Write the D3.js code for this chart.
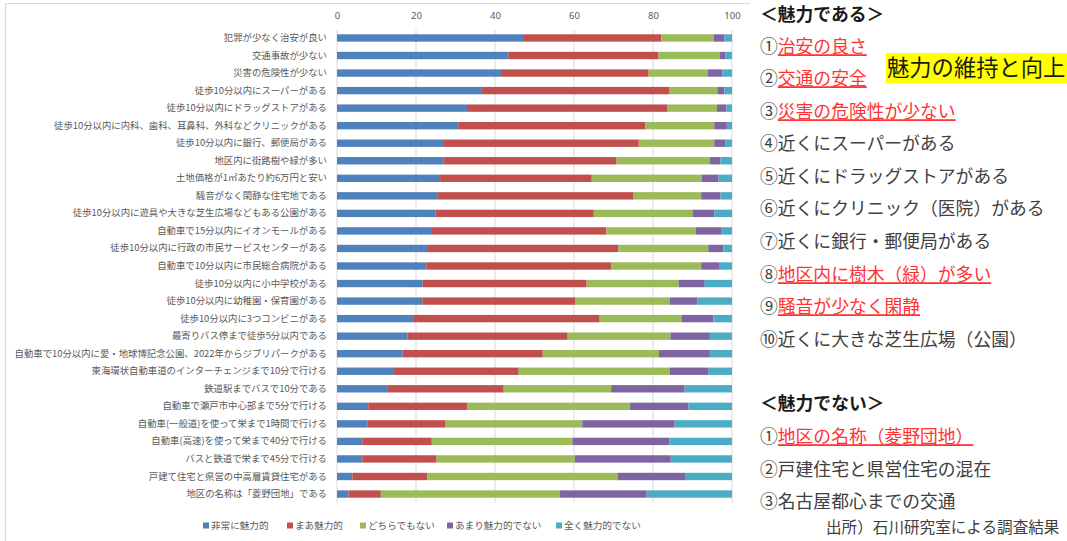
<!DOCTYPE html>
<html><head><meta charset="utf-8">
<script src="https://cdn.jsdelivr.net/npm/d3@7/dist/d3.min.js"></script>
<style>
html,body{margin:0;padding:0;background:#fff;}
svg{display:block;font-family:"Noto Sans CJK JP","Noto Sans",sans-serif;}
</style></head>
<body>
<svg id="c" width="1067" height="541"></svg>
<script>
const categories = [
  "犯罪が少なく治安が良い",
  "交通事故が少ない",
  "災害の危険性が少ない",
  "徒歩10分以内にスーパーがある",
  "徒歩10分以内にドラッグストアがある",
  "徒歩10分以内に内科、歯科、耳鼻科、外科などクリニックがある",
  "徒歩10分以内に銀行、郵便局がある",
  "地区内に街路樹や緑が多い",
  "土地価格が1㎡あたり約6万円と安い",
  "騒音がなく閑静な住宅地である",
  "徒歩10分以内に遊具や大きな芝生広場などもある公園がある",
  "自動車で15分以内にイオンモールがある",
  "徒歩10分以内に行政の市民サービスセンターがある",
  "自動車で10分以内に市民総合病院がある",
  "徒歩10分以内に小中学校がある",
  "徒歩10分以内に幼稚園・保育園がある",
  "徒歩10分以内に3つコンビニがある",
  "最寄りバス停まで徒歩5分以内である",
  "自動車で10分以内に愛・地球博記念公園、2022年からジブリパークがある",
  "東海環状自動車道のインターチェンジまで10分で行ける",
  "鉄道駅までバスで10分である",
  "自動車で瀬戸市中心部まで5分で行ける",
  "自動車(一般道)を使って栄まで1時間で行ける",
  "自動車(高速)を使って栄まで40分で行ける",
  "バスと鉄道で栄まで45分で行ける",
  "戸建て住宅と県営の中高層賃貸住宅がある",
  "地区の名称は「菱野団地」である"
];
const seriesNames = ["非常に魅力的","まあ魅力的","どちらでもない","あまり魅力的でない","全く魅力的でない"];
const veryAttractive   = [47.1,43.4,41.5,36.5,32.9,30.7,27.1,26.9,26.1,25.6,24.9,23.8,22.8,22.6,21.7,21.6,19.5,17.9,16.6,14.2,12.7,7.9,7.8,6.4,6.4,3.9,2.9];
const fairlyAttractive = [35.0,38.0,37.4,47.7,50.8,47.4,49.3,43.9,38.4,49.5,40.1,44.4,48.4,46.9,41.5,38.8,47.0,40.5,35.5,31.8,29.5,25.0,19.7,17.6,18.8,18.9,8.2];
const neither          = [13.3,15.5,14.9,12.1,12.5,17.4,19.1,23.6,27.9,17.1,25.0,22.6,22.8,22.7,23.3,23.9,20.7,26.0,29.4,38.2,27.2,41.3,34.6,35.6,35.0,48.2,45.3];
const notVery          = [2.7,1.5,3.8,1.8,2.4,3.2,2.9,2.7,4.2,4.9,5.5,6.6,3.8,4.7,6.6,7.0,8.1,10.0,12.9,9.9,18.6,14.8,23.4,24.6,24.3,17.1,22.0];
const notAtAll         = [1.9,1.6,2.4,1.9,1.4,1.3,1.6,2.9,3.4,2.9,4.5,2.6,2.2,3.1,6.9,8.7,4.7,5.6,5.6,5.9,12.0,11.0,14.5,15.8,15.5,11.9,21.6];
const xTicks = [0,20,40,60,80,100];
const colors = ["#4F81BD","#C0504D","#9BBB59","#8064A2","#4BACC6"];

const seriesValues = [veryAttractive, fairlyAttractive, neither, notVery, notAtAll];
const rows = categories.map((c,i)=>{
  const o = {cat:c};
  seriesNames.forEach((s,j)=>o[s]=seriesValues[j][i]);
  return o;
});

const svg = d3.select("#c");
svg.append("line").attr("x1",5.5).attr("x2",750).attr("y1",3.5).attr("y2",3.5).attr("stroke","#d9d9d9").attr("stroke-width",1.2);
svg.append("line").attr("x1",5.5).attr("x2",5.5).attr("y1",3.5).attr("y2",541).attr("stroke","#d9d9d9").attr("stroke-width",1.2);

const x = d3.scaleLinear().domain([0,100]).range([337,732]);
const y = d3.scaleBand().domain(categories).range([29.2,502.8]).paddingInner(0.58).paddingOuter(0.29);

const g = svg.append("g");
g.selectAll("line.grid").data(xTicks).join("line")
  .attr("x1",d=>x(d)).attr("x2",d=>x(d)).attr("y1",30).attr("y2",503)
  .attr("stroke","#d9d9d9").attr("stroke-width",1);

const ax = svg.append("g").attr("transform","translate(0,22)")
  .call(d3.axisTop(x).tickValues(xTicks).tickSize(0).tickPadding(3).tickFormat(d3.format("d")));
ax.select(".domain").remove();
ax.selectAll("text").attr("fill","#595959").style("font-size","9.5px").style("font-family","'Noto Sans','DejaVu Sans',sans-serif");

const stack = d3.stack().keys(seriesNames)(rows);
svg.append("g").selectAll("g").data(stack).join("g")
  .attr("fill",(d,i)=>colors[i])
  .selectAll("rect").data(d=>d).join("rect")
  .attr("x",d=>x(d[0])).attr("width",d=>x(d[1])-x(d[0]))
  .attr("y",d=>y(d.data.cat)).attr("height",y.bandwidth());

const ay = svg.append("g").attr("transform","translate(337,0)")
  .call(d3.axisLeft(y).tickSize(0).tickPadding(10));
ay.select(".domain").remove();
ay.selectAll("text").attr("fill","#595959").style("font-size","9.4px")
  .style("font-family","'Noto Sans CJK JP',sans-serif");

const legendX = [203,287,360,447,556];
const lg = svg.append("g").selectAll("g").data(seriesNames).join("g")
  .attr("transform",(d,i)=>`translate(${legendX[i]},525.5)`);
lg.append("rect").attr("x",0).attr("y",-3).attr("width",6).attr("height",6).attr("fill",(d,i)=>colors[i]);
lg.append("text").attr("x",8).attr("dy","0.35em").text(d=>d)
  .attr("fill","#595959").style("font-size","9.6px");

const panel = [
  {y:15, parts:[{t:"＜魅力である＞"}], bold:true},
  {y:47, parts:[{t:"①"},{t:"治安の良さ",red:true}]},
  {y:79, parts:[{t:"②"},{t:"交通の安全",red:true}]},
  {y:112,parts:[{t:"③"},{t:"災害の危険性が少ない",red:true}]},
  {y:144,parts:[{t:"④近くにスーパーがある"}]},
  {y:177,parts:[{t:"⑤近くにドラッグストアがある"}]},
  {y:209,parts:[{t:"⑥近くにクリニック（医院）がある"}]},
  {y:242,parts:[{t:"⑦近くに銀行・郵便局がある"}]},
  {y:275,parts:[{t:"⑧"},{t:"地区内に樹木（緑）が多い",red:true}]},
  {y:307,parts:[{t:"⑨"},{t:"騒音が少なく閑静",red:true}]},
  {y:340,parts:[{t:"⑩近くに大きな芝生広場（公園）"}]},
  {y:404,parts:[{t:"＜魅力でない＞"}], bold:true},
  {y:437,parts:[{t:"①"},{t:"地区の名称（菱野団地）",red:true}]},
  {y:470,parts:[{t:"②戸建住宅と県営住宅の混在"}]},
  {y:502,parts:[{t:"③名古屋都心までの交通"}]}
];
const pg = svg.append("g");
panel.forEach(line=>{
  const t = pg.append("text").attr("x",760).attr("y",line.y).attr("dy","0.35em")
    .style("font-size","17.8px").attr("fill",line.bold?"#1a1a1a":"#404040")
    .style("font-weight",line.bold?"bold":"normal");
  line.parts.forEach(p=>{
    const ts = t.append("tspan").text(p.t);
    if(p.red){ ts.attr("fill","#FF3333").style("text-decoration","underline"); }
  });
});
svg.append("rect").attr("x",886).attr("y",53).attr("width",181).attr("height",30).attr("fill","#FFFF00");
svg.append("text").attr("x",887).attr("y",68).attr("dy","0.36em").text("魅力の維持と向上")
  .style("font-size","22.3px").attr("fill","#1a1a1a");
svg.append("text").attr("x",826).attr("y",528).attr("dy","0.35em").text("出所）石川研究室による調査結果")
  .style("font-size","15.6px").attr("fill","#404040");
</script>
</body></html>
